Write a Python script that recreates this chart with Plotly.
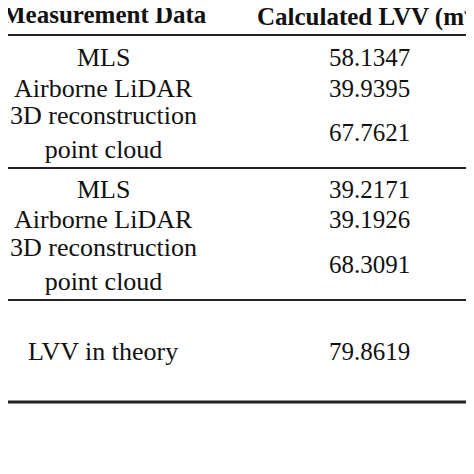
import plotly.graph_objects as go

headers = ["Measurement Data", "Calculated LVV (m<sup>3</sup>)"]
methods = ["MLS", "Airborne LiDAR", "3D reconstruction<br>point cloud",
           "MLS", "Airborne LiDAR", "3D reconstruction<br>point cloud",
           "LVV in theory"]
values = ["58.1347", "39.9395", "67.7621", "39.2171", "39.1926", "68.3091", "79.8619"]
footer = "be found that:"

row_y = [57, 88, 132, 189, 219, 264, 351]
FONT = "Liberation Serif"
fig = go.Figure()
ann = []
ann.append(dict(x=104, y=14, text="<b>" + headers[0] + "</b>", font=dict(size=25)))
ann.append(dict(x=256, y=14, text="<b>" + headers[1] + "</b>", xanchor="left", font=dict(size=25)))
for m, v, y in zip(methods, values, row_y):
    ann.append(dict(x=103, y=y, text=m, font=dict(size=26), yanchor="middle"))
    ann.append(dict(x=369, y=y, text=v, font=dict(size=25), yanchor="middle"))
ann.append(dict(x=0, y=452, text=footer, xanchor="left", font=dict(size=26)))
for a in ann:
    a.setdefault("xanchor", "center")
    a.setdefault("yanchor", "middle")
    a["showarrow"] = False
    a["xref"] = "x"; a["yref"] = "y"
    a["font"].update(family=FONT, color="#111")
    a["align"] = "center"
    a["borderpad"] = 0

shapes = []
for y, w in [(35, 2), (168, 2), (300, 2), (402, 3)]:
    shapes.append(dict(type="line", x0=0, x1=474, y0=y, y1=y, xref="x", yref="y",
                       line=dict(color="#222", width=w)))

fig.update_layout(width=458, height=458, margin=dict(l=0, r=0, t=0, b=0),
                  paper_bgcolor="white", plot_bgcolor="white",
                  annotations=ann, shapes=shapes, showlegend=False,
                  xaxis=dict(range=[8, 466], visible=False, fixedrange=True),
                  yaxis=dict(range=[466, 8], visible=False, fixedrange=True))
fig.write_html("out.html")
